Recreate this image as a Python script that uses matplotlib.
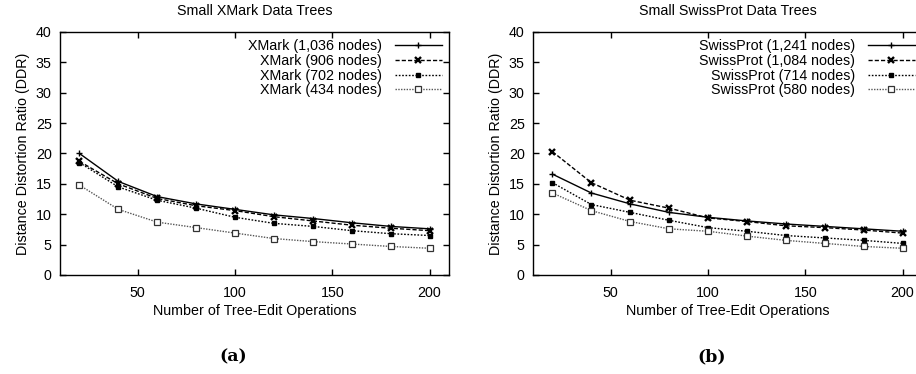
import matplotlib
matplotlib.use("Agg")
import matplotlib.pyplot as plt

plt.rcParams["font.family"] = ["Liberation Sans", "DejaVu Sans"]

# edit operations on the x axis
ops = [20, 40, 60, 80, 100, 120, 140, 160, 180, 200]

# panel (a): XMark
xmark_labels = ["XMark (1,036 nodes)", "XMark (906 nodes)", "XMark (702 nodes)", "XMark (434 nodes)"]
xmark_1036 = [20.0, 15.4, 12.9, 11.7, 10.8, 9.9, 9.3, 8.6, 8.0, 7.6]
xmark_906 = [18.7, 15.0, 12.6, 11.4, 10.6, 9.6, 8.9, 8.2, 7.7, 7.3]
xmark_702 = [18.5, 14.5, 12.3, 11.0, 9.5, 8.5, 8.0, 7.3, 6.8, 6.5]
xmark_434 = [14.8, 10.8, 8.7, 7.8, 6.9, 6.0, 5.5, 5.1, 4.7, 4.4]

# panel (b): SwissProt
swiss_labels = ["SwissProt (1,241 nodes)", "SwissProt (1,084 nodes)", "SwissProt (714 nodes)", "SwissProt (580 nodes)"]
swiss_1241 = [16.6, 13.5, 11.7, 10.3, 9.5, 8.9, 8.4, 8.0, 7.6, 7.2]
swiss_1084 = [20.3, 15.2, 12.3, 11.0, 9.4, 8.8, 8.1, 7.8, 7.4, 6.9]
swiss_714 = [15.2, 11.6, 10.3, 9.0, 7.8, 7.2, 6.5, 6.1, 5.7, 5.2]
swiss_580 = [13.5, 10.6, 8.8, 7.6, 7.2, 6.4, 5.7, 5.2, 4.7, 4.4]

FS = 10.3

styles = [
    dict(color="black", ls="-", lw=1.0, marker="+", ms=5, mew=1.0),
    dict(color="black", ls=(0, (3, 1.5)), lw=1.0, marker="x", ms=4, mew=1.7),
    dict(color="black", ls=(0, (1.2, 1.2)), lw=1.0, marker="s", ms=3.5, mfc="black"),
    dict(color="#555555", ls=(0, (1, 1)), lw=1.0, marker="s", ms=4.5, mfc="white", mec="#333333", mew=0.9),
]


def draw_panel(ax, title, labels, series):
    for lab, ys, st in zip(labels, series, styles):
        ax.plot(ops, ys, label=lab, **st)
    ax.set_xlim(10, 210)
    ax.set_ylim(0, 40)
    ax.set_xticks([50, 100, 150, 200])
    ax.set_yticks(range(0, 41, 5))
    ax.tick_params(direction="in", top=True, right=True, length=4, width=1,
                   labelsize=FS)
    ax.tick_params(axis="x", pad=8)
    ax.tick_params(axis="y", pad=6)
    for s in ax.spines.values():
        s.set_linewidth(1.0)
    ax.set_title(title, fontsize=FS, pad=12)
    ax.set_xlabel("Number of Tree-Edit Operations", fontsize=FS, labelpad=3)
    ax.set_ylabel("Distance Distortion Ratio (DDR)", fontsize=FS, labelpad=4)
    leg = ax.legend(loc="upper right", markerfirst=False, frameon=False,
                    fontsize=FS, handlelength=3.3, handletextpad=0.9,
                    labelspacing=0.05, borderaxespad=0.3, borderpad=0.2)
    for col in leg._legend_handle_box.get_children():
        col.align = "right"


fig = plt.figure(figsize=(9.16, 3.74), dpi=100)
ax1 = fig.add_axes([60 / 916, 99 / 374, 389 / 916, 243 / 374])
ax2 = fig.add_axes([533 / 916, 99 / 374, 389 / 916, 243 / 374])

draw_panel(ax1, "Small XMark Data Trees", xmark_labels,
           [xmark_1036, xmark_906, xmark_702, xmark_434])
draw_panel(ax2, "Small SwissProt Data Trees", swiss_labels,
           [swiss_1241, swiss_1084, swiss_714, swiss_580])

fig.text(233 / 916, 1 - 357 / 374, "(a)", ha="center", va="center",
         fontsize=12.5, fontweight="bold", family=["DejaVu Serif"])
fig.text(712 / 916, 1 - 357 / 374, "(b)", ha="center", va="center",
         fontsize=12.5, fontweight="bold", family=["DejaVu Serif"])

fig.savefig("out.png", dpi=100)
